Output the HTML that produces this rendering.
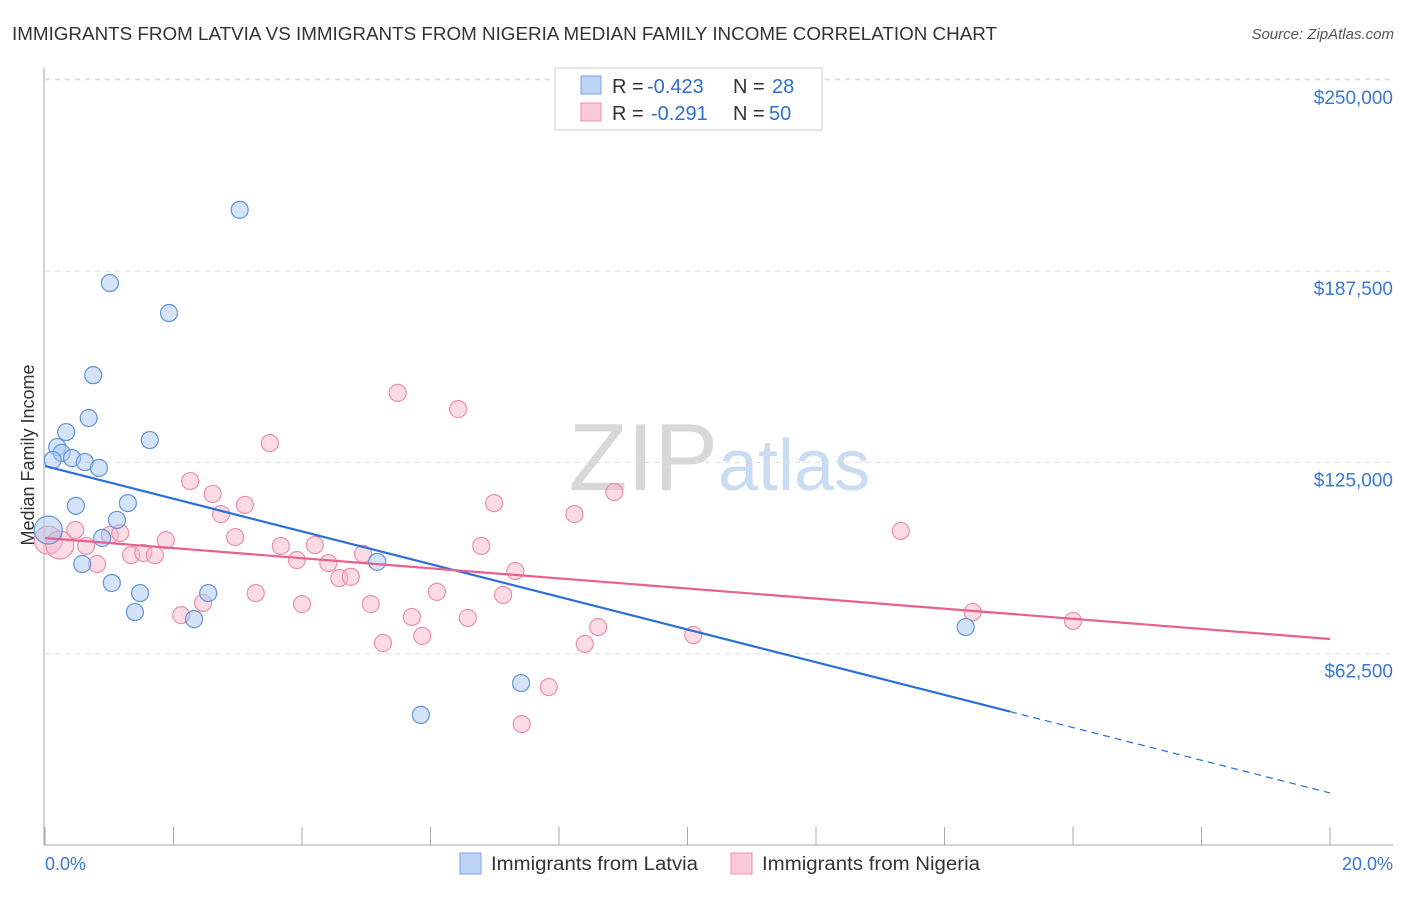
<!DOCTYPE html>
<html><head><meta charset="utf-8"><style>
body{margin:0;background:#fff;font-family:"Liberation Sans",sans-serif;}
svg text{font-family:"Liberation Sans",sans-serif;}
</style></head><body>
<svg width="1406" height="892" id="c">
<text x="12" y="40" font-size="18" fill="#333" textLength="985" lengthAdjust="spacingAndGlyphs">IMMIGRANTS FROM LATVIA VS IMMIGRANTS FROM NIGERIA MEDIAN FAMILY INCOME CORRELATION CHART</text>
<text x="1394" y="39" font-size="15" fill="#555" font-style="italic" text-anchor="end">Source: ZipAtlas.com</text>
<text x="718" y="490" font-size="96" fill="#d8d8d8" text-anchor="end" font-family="Liberation Serif">ZIP</text>
<text x="718" y="490" font-size="72" fill="#c9dcf2">atlas</text>
<text transform="translate(34,455) rotate(-90)" font-size="18" fill="#333" text-anchor="middle">Median Family Income</text>
<g id="axes"></g><g id="marks"></g>
<g>
<rect x="555" y="68" width="267" height="62" fill="#fff" stroke="#ccc"/>
<rect x="581" y="76" width="20" height="18" fill="#bcd4f6" stroke="#7aa6e0"/>
<rect x="581" y="103" width="20" height="18" fill="#fbcad8" stroke="#f090ad"/>
<text x="612" y="93" font-size="20" fill="#333">R =</text>
<text x="647" y="93" font-size="20" fill="#2f6fd0">-0.423</text>
<text x="733" y="93" font-size="20" fill="#333">N =</text>
<text x="772" y="93" font-size="20" fill="#2f6fd0">28</text>
<text x="612" y="120" font-size="20" fill="#333">R =</text>
<text x="651" y="120" font-size="20" fill="#2f6fd0">-0.291</text>
<text x="733" y="120" font-size="20" fill="#333">N =</text>
<text x="769" y="120" font-size="20" fill="#2f6fd0">50</text>
</g>
<g>
<rect x="460" y="853" width="21" height="21" fill="#bcd4f6" stroke="#7aa6e0"/>
<text x="491" y="870" font-size="19" fill="#333" textLength="207" lengthAdjust="spacingAndGlyphs">Immigrants from Latvia</text>
<rect x="731" y="853" width="21" height="21" fill="#fbcad8" stroke="#f090ad"/>
<text x="762" y="870" font-size="19" fill="#333" textLength="218" lengthAdjust="spacingAndGlyphs">Immigrants from Nigeria</text>
</g>
</svg>
<script>
const yTicks=[62500,125000,187500,250000];
const yTickLabels=["$62,500","$125,000","$187,500","$250,000"];
const xTicks=[0,2,4,6,8,10,12,14,16,18,20];
const latviaX=[3.03,1.01,1.93,0.75,0.68,0.33,1.63,0.19,0.26,0.42,0.12,0.62,0.84,0.48,1.29,1.12,0.89,0.58,1.04,1.48,1.40,2.54,2.32,5.17,7.41,5.85,14.33,0.05];
const latviaY=[207.5,183.6,173.8,153.5,139.5,134.9,132.3,130.0,128.1,126.4,125.8,125.1,123.2,110.8,111.7,106.2,100.3,91.8,85.6,82.3,76.1,82.3,73.8,92.5,52.9,42.5,71.2,102.9];
const nigeriaX=[0.05,0.23,0.47,0.64,0.81,1.01,1.17,1.34,1.53,1.71,1.88,2.12,2.26,2.46,2.61,2.74,2.96,3.11,3.28,3.50,3.67,3.92,4.00,4.20,4.41,4.58,4.76,4.95,5.07,5.26,5.49,5.71,5.87,6.10,6.43,6.58,6.79,6.99,7.13,7.32,7.42,7.84,8.24,8.40,8.61,8.86,10.09,13.32,14.44,16.00];
const nigeriaY=[99.6,98.0,102.9,97.7,91.8,101.3,101.9,94.7,95.4,94.7,99.6,75.1,118.9,79.1,114.7,108.1,100.6,111.1,82.3,131.3,97.7,93.1,78.7,98.0,92.1,87.2,87.6,95.1,78.7,66.0,147.7,74.5,68.3,82.7,142.4,74.2,97.7,111.7,81.7,89.5,39.5,51.6,108.1,65.7,71.2,115.3,68.6,102.6,76.1,73.2];
const latviaTrend=[123.8,17.0];
const latviaSolidEnd=15.02;
const nigeriaTrend=[100.3,67.3];
const NS="http://www.w3.org/2000/svg";
const sx=v=>45+v*64.25;
const sy=v=>845-v*1000/326.7;
function mk(t,a,p){const e=document.createElementNS(NS,t);for(const k in a)e.setAttribute(k,a[k]);p.appendChild(e);return e;}
const ax=document.getElementById('axes'),mg=document.getElementById('marks');
yTicks.forEach((t,i)=>{
 const g=mk('line',{x1:45,x2:1393,y1:sy(t/1000),y2:sy(t/1000),stroke:'#ddd','stroke-dasharray':'5,5'},ax);
 
 
 const l=mk('text',{x:1393,y:sy(t/1000)+24,'font-size':19,fill:'#3a78d4','text-anchor':'end'},ax);l.textContent=yTickLabels[i];
 
 
});
mk('line',{x1:45,x2:1393,y1:79,y2:79,stroke:'#ddd','stroke-dasharray':'5,5'},ax);
mk('line',{x1:44,x2:44,y1:68,y2:845,stroke:'#aaa'},ax);
const xa=mk('line',{x1:44,x2:1393,y1:845,y2:845,stroke:'#aaa'},ax);


xTicks.forEach(t=>{mk('line',{x1:sx(t),x2:sx(t),y1:827,y2:845,stroke:'#aaa'},ax);});
let t0=mk('text',{x:45,y:870,'font-size':18,fill:'#3a78d4'},ax);t0.textContent='0.0%';


let t1=mk('text',{x:1393,y:870,'font-size':18,fill:'#3a78d4','text-anchor':'end'},ax);t1.textContent='20.0%';


function pts(X,Y,fill,stroke,name){X.forEach((x,i)=>{const big=x<0.1||(name=='nigeria-point'&&i<2);const c=mk('circle',{cx:sx(x),cy:sy(Y[i]),r:big?14:8.5,fill:fill,'fill-opacity':0.5,stroke:stroke,'stroke-width':1.2},mg);

});}
pts(nigeriaX,nigeriaY,'#f8b9cc','#ee8fae','nigeria-point');
pts(latviaX,latviaY,'#a9c8f0','#5f95dc','latvia-point');
const ly=x=>latviaTrend[0]+(latviaTrend[1]-latviaTrend[0])*x/20;
const l1=mk('line',{x1:sx(0),y1:sy(ly(0)),x2:sx(latviaSolidEnd),y2:sy(ly(latviaSolidEnd)),stroke:'#2a6fd8','stroke-width':2.2},mg);


mk('line',{x1:sx(latviaSolidEnd),y1:sy(ly(latviaSolidEnd)),x2:sx(20),y2:sy(ly(20)),stroke:'#2a6fd8','stroke-width':1.2,'stroke-dasharray':'7,5'},mg);
const l2=mk('line',{x1:sx(0),y1:sy(nigeriaTrend[0]),x2:sx(20),y2:sy(nigeriaTrend[1]),stroke:'#e8608e','stroke-width':2.2},mg);


</script>
</body></html>
